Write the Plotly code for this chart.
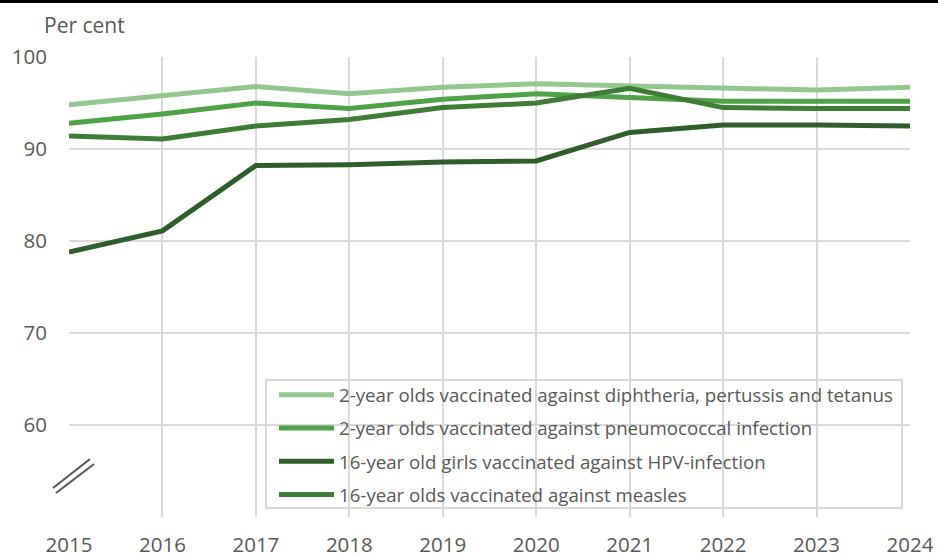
import plotly.graph_objects as go

years = [2015, 2016, 2017, 2018, 2019, 2020, 2021, 2022, 2023, 2024]
dtp = [94.8, 95.8, 96.8, 96.0, 96.7, 97.1, 96.9, 96.6, 96.4, 96.7]
pcv = [92.8, 93.8, 95.0, 94.4, 95.4, 96.0, 95.6, 95.2, 95.2, 95.2]
hpv = [78.8, 81.1, 88.2, 88.3, 88.6, 88.7, 91.8, 92.6, 92.6, 92.5]
measles = [91.4, 91.1, 92.5, 93.2, 94.5, 95.0, 96.6, 94.5, 94.4, 94.4]

names = [
    "2-year olds vaccinated against diphtheria, pertussis and tetanus",
    "2-year olds vaccinated against pneumococcal infection",
    "16-year old girls vaccinated against HPV-infection",
    "16-year olds vaccinated against measles",
]
colors = ["#93c78e", "#4ea346", "#2e5e2a", "#3d7d35"]
series = [dtp, pcv, hpv, measles]

y_ticks = [50, 60, 70, 80, 90, 100]
y_labels = ["", "60", "70", "80", "90", "100"]

fig = go.Figure()
for i, (n, c, s) in enumerate(zip(names, colors, series)):
    fig.add_trace(go.Scatter(
        x=years, y=s, name=n, mode="lines", legendgroup=f"g{i}",
        line=dict(color=c, width=5),
    ))

font = "Open Sans"
grey = "#595959"
grid = "#d9d9d9"

L, T, W, H = 69, 57, 841, 460


def px(x):
    return (x - L) / W


def py(y):
    return (T + H - y) / H


fig.update_layout(
    width=938, height=556,
    margin=dict(l=69, r=28, t=57, b=39, autoexpand=False),
    paper_bgcolor="white", plot_bgcolor="white",
    font=dict(family=font, size=20.5, color=grey),
    showlegend=True,
    legend=dict(
        x=px(274), y=py(376), xanchor="left", yanchor="top",
        bgcolor="rgba(0,0,0,0)", borderwidth=0,
        font=dict(size=18.7, color=grey, family=font),
        traceorder="grouped", tracegroupgap=6,
        itemwidth=55,
    ),
    xaxis=dict(
        range=[2015, 2024], tickvals=years, ticktext=[str(y) for y in years],
        showgrid=True, gridcolor=grid, gridwidth=2,
        zeroline=False, showline=False, ticks="", automargin=False,
        tickfont=dict(size=20.5, color=grey), ticklabelstandoff=13,
    ),
    yaxis=dict(
        range=[50, 100], tickvals=y_ticks, ticktext=y_labels,
        showgrid=True, gridcolor=grid, gridwidth=2,
        zeroline=False, showline=False, ticks="", automargin=False,
        tickfont=dict(size=20.5, color=grey), ticklabelstandoff=21,
    ),
    annotations=[dict(
        text="Per cent", xref="paper", yref="paper",
        x=px(45) - 0.003, y=py(41), xanchor="left", yanchor="bottom",
        showarrow=False, font=dict(size=21, color=grey, family=font),
    )],
    shapes=[
        # legend box
        dict(type="rect", xref="paper", yref="paper", layer="between",
             x0=px(266), x1=px(902), y0=py(508), y1=py(380),
             fillcolor="white", line=dict(color=grid, width=2)),
        # top black rule
        dict(type="line", xref="paper", yref="paper",
             x0=px(0), x1=px(938), y0=py(1.5), y1=py(1.5),
             line=dict(color="black", width=3)),
        # axis break marks
        dict(type="line", xref="paper", yref="paper",
             x0=px(53), x1=px(90), y0=py(488), y1=py(459),
             line=dict(color="#595959", width=2.2)),
        dict(type="line", xref="paper", yref="paper",
             x0=px(56), x1=px(94), y0=py(493), y1=py(464),
             line=dict(color="#595959", width=2.2)),
    ],
)

fig.write_html("out.html", config={"displayModeBar": False},
               post_script="document.body.style.margin='0';")
